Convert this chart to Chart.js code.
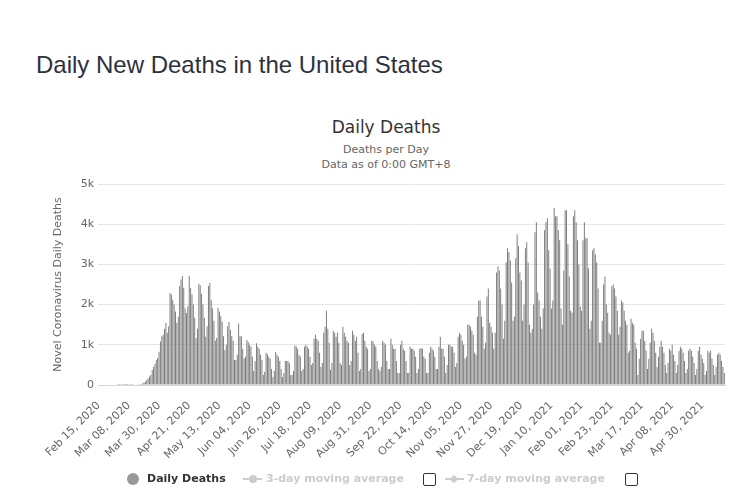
<!DOCTYPE html>
<html>
<head>
<meta charset="utf-8">
<script src="https://cdn.jsdelivr.net/npm/chart.js@4.4.1/dist/chart.umd.min.js"></script>
<style>
  body { margin: 0; width: 750px; height: 500px; background: #fff; position: relative; overflow: hidden; }
  #chart { position: absolute; left: 0; top: 0; }
  .heading { position: absolute; left: 36px; top: 50px; margin: 0; font: 24px/30px "Liberation Sans", Arial, sans-serif; color: #2e3140; white-space: nowrap; }
  .ctitle { position: absolute; left: 236px; width: 300px; text-align: center; font-family: "DejaVu Sans", sans-serif; white-space: nowrap; }
  .legend { position: absolute; top: 471px; height: 16px; font: bold 11px/16px "DejaVu Sans", sans-serif; white-space: nowrap; }
  .box { position: absolute; top: 473px; width: 11px; height: 11px; border: 1px solid #333; border-radius: 2px; background: #fff; }
</style>
</head>
<body>
<h1 class="heading">Daily New Deaths in the United States</h1>
<div class="ctitle" style="top:117px; font-size:17px; line-height:20px; color:#333;">Daily Deaths</div>
<div class="ctitle" style="top:142px; font-size:11px; line-height:15px; color:#666;">Deaths per Day<br>Data as of 0:00 GMT+8</div>

<canvas id="chart" width="750" height="500"></canvas>

<!-- legend -->
<div style="position:absolute; left:127px; top:473px; width:12px; height:12px; border-radius:50%; background:#999;"></div>
<div class="legend" style="left:147px; color:#333;">Daily Deaths</div>
<div style="position:absolute; left:243px; top:478px; width:19px; height:2px; background:#ccc;"></div>
<div style="position:absolute; left:249px; top:475px; width:8px; height:8px; border-radius:50%; background:#ccc;"></div>
<div class="legend" style="left:266px; color:#ccc;">3-day moving average</div>
<div class="box" style="left:423px;"></div>
<div style="position:absolute; left:445px; top:478px; width:19px; height:2px; background:#ccc;"></div>
<div style="position:absolute; left:451px; top:476px; width:6px; height:6px; transform:rotate(45deg); background:#ccc;"></div>
<div class="legend" style="left:467px; color:#ccc;">7-day moving average</div>
<div class="box" style="left:625px;"></div>

<script>
// daily deaths, one array per month (first day Feb 15, 2020)
const feb2020 = [0,0,0,0,0,0,0,0,0,0,0,0,0,0,1]
const mar2020 = [1,5,1,4,1,2,3,4,4,3,7,11,12,8,13,20,25,40,60,80,125,160,210,250,375,450,520,625,670,830,1080]
const apr2020 = [1210,1250,1400,1540,1300,1460,2290,2250,2120,2000,1830,1550,1700,2460,2625,2710,2420,1900,1790,1960,2720,2420,2250,2000,1670,1160,1400,2520,2480,2270]
const may2020 = [2000,1670,1200,1460,2460,2540,2120,1900,1600,1100,1170,1920,1830,1710,1580,1210,870,1000,1460,1570,1375,1210,1100,620,620,750,1530,1210,1210,900,660]
const jun2020 = [700,1120,1070,1000,950,700,350,600,1040,950,900,750,620,250,330,800,760,700,650,400,200,350,820,750,700,600,400,200,300,600]
const jul2020 = [600,600,550,250,250,350,980,960,900,750,700,350,400,950,1000,950,900,700,500,550,1150,1250,1150,1100,800,450,550,1300,1450,1850,1400]
const aug2020 = [1050,380,550,1350,1300,1200,1300,1050,550,500,1450,1300,1200,1100,1050,500,600,1350,1250,1100,1200,800,350,400,1270,1300,1100,950,900,350,400]
const sep2020 = [1100,1080,1000,950,600,400,350,450,1100,1050,1000,600,400,400,1150,1000,900,900,600,300,300,1000,1100,900,850,600,300,300,950,900]
const oct2020 = [900,850,700,300,400,900,920,900,700,650,300,300,800,950,900,850,700,400,400,950,1200,900,900,700,300,500,1000,1000,950,950,800]
const nov2020 = [450,550,1200,1300,1250,1100,1000,650,700,1500,1500,1450,1350,1250,800,750,1700,2100,2100,1700,1450,900,1050,2200,2400,1550,1450,1300,900,1300]
const dec2020 = [2800,2950,2850,2400,2000,1150,1600,3050,3400,3300,3100,2550,1600,1700,3150,3750,3450,2800,2600,1600,2000,3400,3550,3050,1500,1300,1400,2000,3800,4050,2300]
const jan2021 = [2100,1700,1400,1900,3850,4050,4150,3350,2900,1900,2100,4400,4200,4200,3850,3600,1900,1500,2850,4350,4350,3500,2700,1850,1800,4200,4350,4050,3600,3000,1950]
const feb2021 = [1850,3600,4050,3650,3650,2900,1400,1600,3350,3400,3250,3050,2400,1050,1050,1600,2500,2700,2000,1800,1300,1250,2450,2500,2400,2200,1850,1250]
const mar2021 = [1450,2100,2050,1850,1600,1500,800,850,1650,1550,1500,1050,900,250,650,1150,1350,1350,1100,850,400,650,1050,1400,1300,1100,800,450,700,950,1100]
const apr2021 = [950,800,500,300,550,900,850,1000,750,600,300,500,850,950,900,800,600,300,400,850,900,850,700,550,250,400,850,950,750,650]
const may2021 = [550,250,350,850,800,850,650,500,250,450,750,800,750,600,450,300]

const tickLabels = ['Feb 15, 2020', 'Mar 08, 2020', 'Mar 30, 2020', 'Apr 21, 2020', 'May 13, 2020',
  'Jun 04, 2020', 'Jun 26, 2020', 'Jul 18, 2020', 'Aug 09, 2020', 'Aug 31, 2020', 'Sep 22, 2020',
  'Oct 14, 2020', 'Nov 05, 2020', 'Nov 27, 2020', 'Dec 19, 2020', 'Jan 10, 2021', 'Feb 01, 2021',
  'Feb 23, 2021', 'Mar 17, 2021', 'Apr 08, 2021', 'Apr 30, 2021']

const deaths = [].concat(feb2020, mar2020, apr2020, may2020, jun2020, jul2020, aug2020, sep2020,
  oct2020, nov2020, dec2020, jan2021, feb2021, mar2021, apr2021, may2021)

const monthNames = ['Jan', 'Feb', 'Mar', 'Apr', 'May', 'Jun', 'Jul', 'Aug', 'Sep', 'Oct', 'Nov', 'Dec']
const startDay = Date.UTC(2020, 1, 15)
const dates = deaths.map((v, i) => {
  const d = new Date(startDay + i * 86400000)
  return monthNames[d.getUTCMonth()] + ' ' + String(d.getUTCDate()).padStart(2, '0') + ', ' + d.getUTCFullYear()
})

const axisFont = { family: 'DejaVu Sans', size: 11 }

new Chart(document.getElementById('chart'), {
  type: 'bar',
  data: {
    labels: dates,
    datasets: [{
      label: 'Daily Deaths',
      data: deaths,
      backgroundColor: '#7a7a7a',
      barPercentage: 0.7,
      categoryPercentage: 1.0
    }]
  },
  options: {
    responsive: false,
    animation: false,
    layout: { padding: { left: 22, right: 25, top: 184, bottom: 35 } },
    plugins: {
      legend: { display: false },
      tooltip: { enabled: false }
    },
    scales: {
      x: {
        grid: { display: false },
        border: { color: '#ccd6eb' },
        afterFit: (s) => { s.height = 80 },
        ticks: {
          autoSkip: false,
          minRotation: 45,
          maxRotation: 45,
          padding: 6,
          color: '#666',
          font: axisFont,
          callback: function (value) {
            const lab = this.getLabelForValue(value)
            return tickLabels.includes(lab) ? lab : ''
          }
        }
      },
      y: {
        min: 0,
        max: 5000,
        afterFit: (s) => { s.width = 76 },
        grid: { color: '#e6e6e6', drawTicks: false },
        border: { display: false },
        ticks: {
          stepSize: 1000,
          padding: 4,
          color: '#666',
          font: axisFont,
          callback: (v) => v === 0 ? '0' : (v / 1000) + 'k'
        },
        title: {
          display: true,
          text: 'Novel Coronavirus Daily Deaths',
          color: '#666',
          font: axisFont,
          padding: { top: 30 }
        }
      }
    }
  }
})
</script>
</body>
</html>
